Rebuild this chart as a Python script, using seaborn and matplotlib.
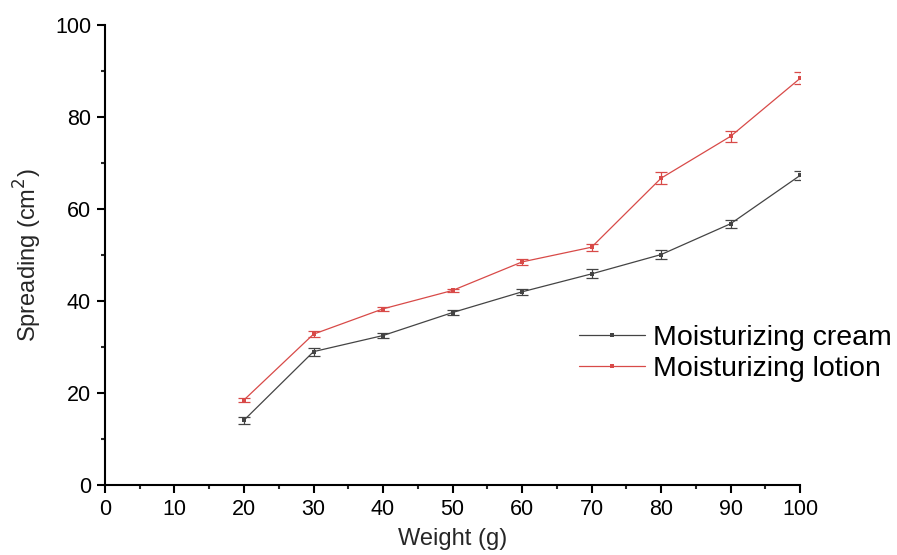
import numpy as np
import pandas as pd
import matplotlib
matplotlib.use("Agg")
import matplotlib.pyplot as plt
import seaborn as sns
from matplotlib.ticker import MultipleLocator

# data
weight = [20, 30, 40, 50, 60, 70, 80, 90, 100]
cream = [14.1, 29.0, 32.5, 37.5, 42.0, 45.9, 50.1, 56.8, 67.3]
cream_err = [0.8, 0.9, 0.6, 0.5, 0.7, 1.0, 0.9, 0.9, 0.9]
lotion = [18.5, 32.8, 38.3, 42.3, 48.5, 51.7, 66.7, 75.8, 88.4]
lotion_err = [0.4, 0.7, 0.5, 0.4, 0.7, 0.8, 1.3, 1.2, 1.3]

labels = ["Moisturizing cream", "Moisturizing lotion"]
colors = ["#444444", "#d84a48"]

df = pd.DataFrame({
    "Weight": weight * 2,
    "Spreading": cream + lotion,
    "err": cream_err + lotion_err,
    "Sample": [labels[0]] * len(weight) + [labels[1]] * len(weight),
})

sns.set_style("ticks")
plt.rcParams["font.family"] = ["Liberation Sans", "DejaVu Sans"]

fig = plt.figure(figsize=(8.97, 5.55), dpi=100)
ax = fig.add_axes([0.117, 0.126, 0.775, 0.829])

sns.lineplot(
    data=df, x="Weight", y="Spreading", hue="Sample",
    palette=colors, marker="s", markersize=3, markeredgewidth=0,
    linewidth=0.9, ax=ax,
)

for lab, col in zip(labels, colors):
    sub = df[df["Sample"] == lab]
    ax.errorbar(sub["Weight"], sub["Spreading"], yerr=sub["err"],
                fmt="none", ecolor=col, elinewidth=0.9, capsize=4,
                capthick=0.9)

ax.set_xlim(0, 100)
ax.set_ylim(0, 100)
ax.xaxis.set_major_locator(MultipleLocator(10))
ax.xaxis.set_minor_locator(MultipleLocator(5))
ax.yaxis.set_major_locator(MultipleLocator(20))
ax.yaxis.set_minor_locator(MultipleLocator(10))
ax.tick_params(which="major", length=6, width=1.5, labelsize=15.5,
               direction="out", pad=4, colors="black")
ax.tick_params(which="minor", length=3, width=1.5, direction="out")
for s in ["left", "bottom"]:
    ax.spines[s].set_linewidth(1.5)
    ax.spines[s].set_color("black")
sns.despine(ax=ax)

ax.set_xlabel("Weight (g)", fontsize=17, labelpad=6)
ax.set_ylabel("Spreading (cm$^2$)", fontsize=17, labelpad=8)

leg = ax.legend(loc="upper left", bbox_to_anchor=(0.666, 0.372), frameon=False,
                fontsize=20.5, handlelength=2.3, handletextpad=0.3,
                labelspacing=0.15, borderaxespad=0)
for t in leg.get_texts():
    t.set_color("black")

plt.savefig("out.png", dpi=100)
